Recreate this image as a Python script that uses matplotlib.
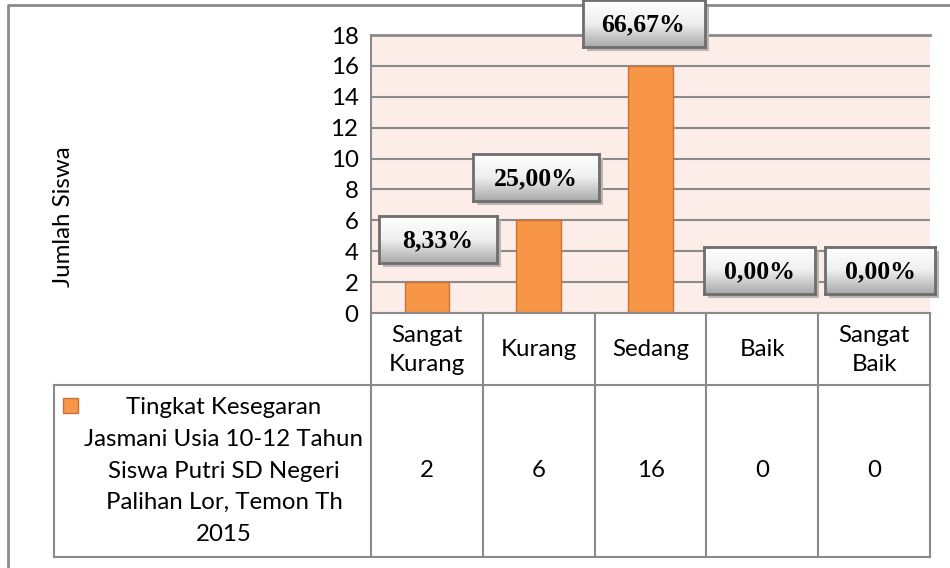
import matplotlib
matplotlib.use('Agg')
import matplotlib.pyplot as plt
import numpy as np
from matplotlib.patches import Rectangle
from matplotlib.lines import Line2D
from matplotlib.colors import LinearSegmentedColormap

# ---------------- data ----------------
categories = ['Sangat\nKurang', 'Kurang', 'Sedang', 'Baik', 'Sangat\nBaik']
values = [2, 6, 16, 0, 0]
percent_labels = ['8,33%', '25,00%', '66,67%', '0,00%', '0,00%']
series_name = ('Tingkat Kesegaran\nJasmani Usia 10-12 Tahun\nSiswa Putri SD Negeri\n'
               'Palihan Lor, Temon Th\n2015')
y_ticks = [0, 2, 4, 6, 8, 10, 12, 14, 16, 18]
y_label = 'Jumlah Siswa'

# ---------------- style / layout ----------------
SANS = 'Lato'
SERIF = 'Liberation Serif'
FS = 17.3
GRAY = '#8A8A8A'
BAR = '#F79646'
BAR_EDGE = '#C8713A'
BG = '#FCEDE8'

W, H = 950, 568
fig = plt.figure(figsize=(W / 100, H / 100), dpi=100)
fig.patch.set_facecolor('white')

def fx(px):
    return px / W

def fy(py):
    return 1 - py / H

L, R, T, B = 371, 930, 35, 313
ax = fig.add_axes([fx(L), fy(B), (R - L) / W, (B - T) / H])
ax.set_zorder(0)
ax.set_xlim(-0.5, 4.5)
ax.set_ylim(0, 18)
ax.set_facecolor(BG)
ax.set_yticks(y_ticks)
ax.set_yticklabels([str(t) for t in y_ticks], fontsize=FS, family=SANS)
ax.tick_params(axis='y', length=0, pad=9)
ax.set_xticks([])
ax.yaxis.grid(True, color=GRAY, lw=1.5)
ax.set_axisbelow(True)
for s in ['right', 'bottom']:
    ax.spines[s].set_visible(False)
ax.spines['top'].set_color(GRAY)
ax.spines['top'].set_linewidth(2)
ax.spines['left'].set_color(GRAY)
ax.spines['left'].set_linewidth(1.5)

xs = np.arange(len(values))
ax.bar(xs, values, width=0.4, color=BAR, edgecolor=BAR_EDGE, lw=1, zorder=3)

fig.text(fx(63), fy(217), y_label, rotation=90, ha='center', va='center',
         fontsize=FS, family=SANS)

# ---------------- data table ----------------
TL, TB, ROW1 = 54, 557, 385
unit = (R - L) / 5.0
x0 = -0.5 - (L - TL) / unit
tab = fig.add_axes([fx(TL), fy(TB), (R - TL) / W, (TB - B) / H])
tab.set_xlim(x0, 4.5)
tab.set_ylim(TB, B)
tab.axis('off')
kw = dict(color=GRAY, lw=1.5, clip_on=False, solid_capstyle='projecting')
tab.plot([-0.5, 4.5], [B, B], **kw)
tab.plot([x0, 4.5], [ROW1, ROW1], **kw)
tab.plot([x0, 4.5], [TB, TB], **kw)
tab.plot([x0, x0], [ROW1, TB], **kw)
for k in range(6):
    tab.plot([k - 0.5, k - 0.5], [B, TB], **kw)
for i, c in enumerate(categories):
    tab.text(i, (B + ROW1) / 2 + 1, c, ha='center', va='center', fontsize=FS,
             family=SANS, linespacing=1.45)
    tab.text(i, (ROW1 + TB) / 2, str(values[i]), ha='center', va='center',
             fontsize=FS, family=SANS)

# legend key + series name
fig.patches.append(Rectangle((fx(63), fy(413)), 15 / W, 15 / H, transform=fig.transFigure,
                             facecolor=BAR, edgecolor=BAR_EDGE, lw=1, zorder=3))
fig.text(fx(224), fy(471), series_name, ha='center', va='center', fontsize=FS,
         family=SANS, linespacing=1.63)

# outer frame (partially visible)
fig.add_artist(Line2D([fx(8), fx(8), fx(950)], [fy(568), fy(5), fy(5)],
                      transform=fig.transFigure, color=GRAY, lw=2))

# ---------------- data labels ----------------
label_dx = [11, -3, -7, -3, 6]
box_w = [118, 126, 122, 111, 110]
box_h = 47
gap = 19
grad = np.linspace(0, 1, 64).reshape(-1, 1)
cmap = LinearSegmentedColormap.from_list('g', ['#FFFFFF', '#EFEFEF', '#A9A9A9'])
fig.canvas.draw()
for i, (v, lab) in enumerate(zip(values, percent_labels)):
    px, py = ax.transData.transform((i, v))
    cx = px + label_dx[i]
    by = py + gap
    w = box_w[i]
    # shadow
    fig.patches.append(Rectangle(((cx - w / 2 + 4) / W, (by - 4) / H), w / W, box_h / H,
                                 transform=fig.transFigure, facecolor='#BDB5B2',
                                 edgecolor='none', zorder=1))
    bax = fig.add_axes([(cx - w / 2) / W, by / H, w / W, box_h / H])
    bax.set_zorder(2)
    bax.imshow(grad, cmap=cmap, aspect='auto', extent=[0, 1, 0, 1], origin='upper')
    bax.set_xticks([]); bax.set_yticks([])
    for s in bax.spines.values():
        s.set_color('#6E6E6E')
        s.set_linewidth(2)
    bax.text(0.5, 0.47, lab, ha='center', va='center', fontsize=18.5, family=SERIF,
             fontweight='bold', transform=bax.transAxes)

fig.savefig('out.png', dpi=100)
